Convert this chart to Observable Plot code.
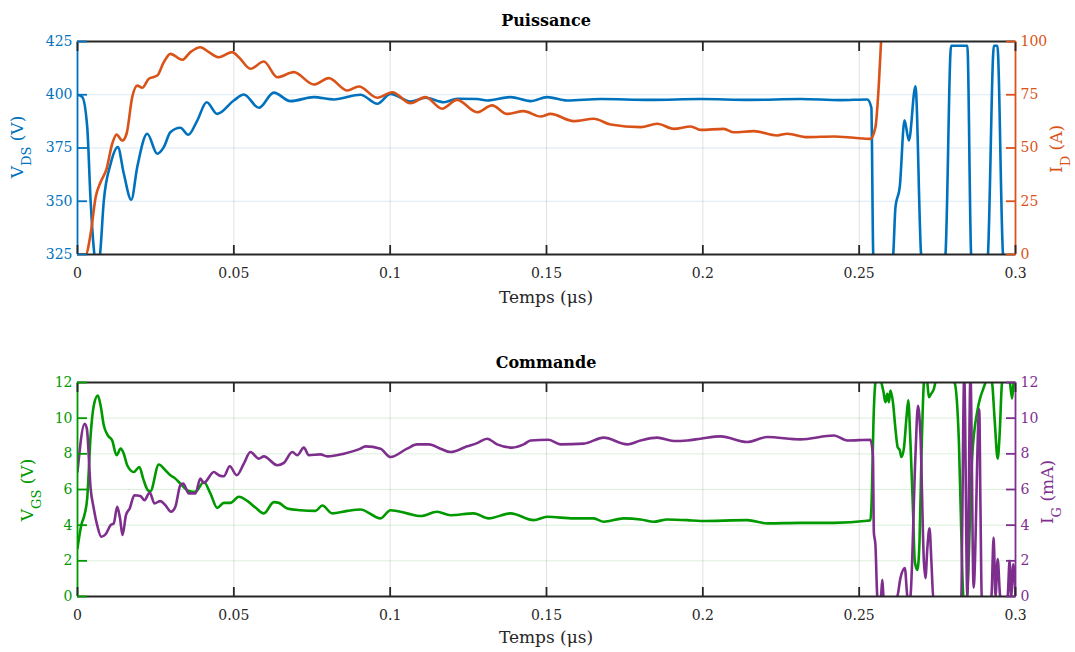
<!DOCTYPE html>
<html><head><meta charset="utf-8">
<script src="https://cdn.jsdelivr.net/npm/d3@7"></script>
<script src="https://cdn.jsdelivr.net/npm/@observablehq/plot@0.6"></script>
<style>
body{margin:0;background:#fff;}
#chart svg{display:block;}
</style></head><body><div id="chart"></div>
<script>
// ---------- data ----------
const timeDomain = [0, 0.3];
const timeTicks = [0, 0.05, 0.1, 0.15, 0.2, 0.25, 0.3];
const timeTickLabels = ["0", "0.05", "0.1", "0.15", "0.2", "0.25", "0.3"];

const vdsDomain = [325, 425];
const vdsTicks = [325, 350, 375, 400, 425];
const idDomain = [0, 100];
const idTicks = [0, 25, 50, 75, 100];

const vgsDomain = [0, 12];
const vgsTicks = [0, 2, 4, 6, 8, 10, 12];
const igDomain = [0, 12];
const igTicks = [0, 2, 4, 6, 8, 10, 12];

// [time (µs), V_DS (V)]
const vdsSeries = [[0,400],[0.0015,399],[0.0031,385],[0.0042,350],[0.0052,328],[0.0061,318],[0.0072,325],[0.0084,350],[0.0106,367.6],[0.0129,375.4],[0.0148,363],[0.0172,350.7],[0.0191,366],[0.0223,381.7],[0.0255,372.3],[0.0276,375.4],[0.0297,382.4],[0.0329,384.5],[0.0354,381.2],[0.0383,387.9],[0.0413,396.5],[0.0447,391],[0.05,397.3],[0.0532,400.1],[0.058,393.9],[0.0628,401],[0.0681,397],[0.0756,398.9],[0.082,397.8],[0.0905,400],[0.0959,395.8],[0.1001,400.4],[0.1065,396.8],[0.1113,398.6],[0.1172,396.5],[0.1214,398.1],[0.1278,398],[0.131,397.3],[0.1385,398.9],[0.1449,397],[0.1502,398.9],[0.1566,397.3],[0.1673,398],[0.1833,397.6],[0.1993,398],[0.2152,397.6],[0.2312,398],[0.244,397.5],[0.2526,397.8],[0.2539,394],[0.2545,325],[0.2575,290],[0.2609,325],[0.2616,347],[0.263,357],[0.2645,388],[0.2659,378.5],[0.268,404],[0.2698,325],[0.2735,290],[0.2776,325],[0.2794,423],[0.2846,423],[0.2858,325],[0.2885,290],[0.2912,325],[0.2931,423],[0.2942,423],[0.296,325],[0.3,290]];

// [time (µs), I_D (A)]
const idSeries = [[0,0],[0.0026,0],[0.0042,9.7],[0.0058,26.9],[0.0074,34],[0.0093,40.2],[0.0111,52],[0.0125,56.3],[0.0143,53.5],[0.0157,56.7],[0.0175,73.9],[0.0191,79.3],[0.0207,78.3],[0.0228,82.5],[0.0255,84],[0.0276,90.3],[0.0297,94.2],[0.0335,91.4],[0.0361,95],[0.0393,97.3],[0.042,95],[0.0452,92.6],[0.0495,95],[0.0516,92.6],[0.0553,87.2],[0.0596,90.6],[0.0639,83.2],[0.0692,85.6],[0.0756,79.8],[0.0804,82.8],[0.0863,77],[0.09,78.9],[0.0959,73.6],[0.1007,76.2],[0.1065,71],[0.1113,73.9],[0.1166,68.4],[0.1214,72.6],[0.1278,66.8],[0.1326,70],[0.1374,66],[0.1427,67.3],[0.1481,64.8],[0.1513,66],[0.1587,62.6],[0.1651,63.7],[0.1705,61],[0.1801,59.8],[0.1854,61.4],[0.1907,59],[0.1961,60.1],[0.1993,58.5],[0.2067,59],[0.2099,57.4],[0.2163,57.9],[0.2238,55.9],[0.227,56.7],[0.2334,55.1],[0.2419,55.4],[0.2483,54.8],[0.2536,54.3],[0.2552,59.8],[0.2563,80.1],[0.257,100],[0.258,130]];

// [time (µs), V_GS (V)]
const vgsSeries = [[0,2.7],[0.0012,4.0],[0.0022,4.56],[0.0031,5.5],[0.0042,9.03],[0.0052,10.7],[0.0065,11.27],[0.0074,10.7],[0.0084,9.6],[0.0097,9.03],[0.0111,8.75],[0.0125,7.92],[0.0138,8.29],[0.0148,8.01],[0.0159,7.36],[0.018,6.98],[0.0198,7.26],[0.021,6.61],[0.0225,5.96],[0.0233,5.9],[0.026,7.4],[0.0281,7.08],[0.0297,6.8],[0.0313,6.61],[0.0329,6.33],[0.0356,5.92],[0.0377,5.87],[0.0404,6.42],[0.0425,5.78],[0.0447,4.97],[0.0468,5.25],[0.0489,5.25],[0.0516,5.59],[0.0543,5.36],[0.0569,4.99],[0.0596,4.66],[0.0628,5.29],[0.0644,5.25],[0.0671,4.94],[0.0713,4.84],[0.0761,4.8],[0.0783,5.1],[0.0815,4.66],[0.0863,4.8],[0.0905,4.88],[0.0969,4.38],[0.1001,4.84],[0.1054,4.66],[0.1097,4.51],[0.115,4.75],[0.1193,4.56],[0.1267,4.66],[0.1315,4.38],[0.1385,4.66],[0.1459,4.28],[0.1502,4.47],[0.1587,4.38],[0.1651,4.38],[0.1683,4.19],[0.1747,4.38],[0.1801,4.32],[0.1843,4.19],[0.1886,4.32],[0.195,4.28],[0.1993,4.23],[0.2142,4.28],[0.2206,4.1],[0.2312,4.13],[0.2419,4.13],[0.2526,4.25],[0.2536,4.28],[0.2539,4.94],[0.2547,10.5],[0.2552,12],[0.2561,12.5],[0.2571,12],[0.2578,11.45],[0.2584,10.9],[0.259,11.36],[0.2595,10.9],[0.26,11.55],[0.2608,10.9],[0.2616,9.4],[0.2623,8.38],[0.263,8.2],[0.2635,7.82],[0.2643,8.29],[0.2651,9.97],[0.2657,11.0],[0.2664,8.66],[0.2672,4.94],[0.2678,1.96],[0.2686,1.49],[0.2693,3.07],[0.2699,7.73],[0.2707,12],[0.2712,12.5],[0.2718,12],[0.2723,11.17],[0.273,11.36],[0.2739,11.64],[0.2744,12],[0.2773,12.5],[0.2805,12],[0.2819,8.66],[0.2826,4.0],[0.2833,0],[0.2839,-0.5],[0.2845,0],[0.2861,7.73],[0.2879,10.5],[0.2888,11.2],[0.2894,11.5],[0.2904,12],[0.2914,12.5],[0.2925,12],[0.2933,10],[0.2943,7.73],[0.2949,9],[0.2957,12],[0.2968,12.5],[0.2982,12],[0.2989,11.1],[0.2994,12],[0.3,12.5]];

// [time (µs), I_G (mA)]
const igSeries = [[0,7.0],[0.0023,9.69],[0.003,9.4],[0.0042,6.05],[0.0052,4.94],[0.0063,4.0],[0.0076,3.35],[0.009,3.49],[0.0106,4.0],[0.0116,4.1],[0.0127,5.03],[0.0136,4.38],[0.0144,3.45],[0.0155,4.56],[0.0167,4.94],[0.0182,5.68],[0.0201,5.64],[0.0214,5.4],[0.0231,5.83],[0.0246,5.22],[0.0265,5.35],[0.0281,5.12],[0.0299,4.75],[0.0313,5.03],[0.0329,6.24],[0.0338,6.33],[0.0356,5.78],[0.0377,5.78],[0.0393,6.61],[0.0404,6.37],[0.0436,6.98],[0.0452,6.8],[0.0468,6.74],[0.0487,7.3],[0.0509,6.8],[0.0532,7.45],[0.0553,8.1],[0.058,7.73],[0.0596,7.86],[0.0639,7.36],[0.066,7.49],[0.0687,8.1],[0.0703,7.92],[0.0724,8.35],[0.074,7.92],[0.0777,7.97],[0.0799,7.86],[0.0852,8.01],[0.0905,8.29],[0.0921,8.42],[0.0969,8.29],[0.1001,7.82],[0.1054,8.29],[0.1086,8.53],[0.1124,8.53],[0.1161,8.29],[0.1193,8.1],[0.1246,8.42],[0.1278,8.6],[0.131,8.85],[0.1342,8.53],[0.139,8.35],[0.1427,8.53],[0.1449,8.75],[0.1507,8.79],[0.1545,8.53],[0.1619,8.57],[0.1683,8.91],[0.1758,8.53],[0.1801,8.75],[0.1854,8.91],[0.1907,8.72],[0.195,8.75],[0.1993,8.85],[0.2057,8.98],[0.2142,8.66],[0.2206,8.94],[0.2312,8.81],[0.2419,9.03],[0.2462,8.75],[0.2536,8.79],[0.2544,7.9],[0.2547,3.6],[0.2552,2.9],[0.2558,0],[0.2565,-0.5],[0.257,0],[0.2574,0.93],[0.2578,0],[0.26,-0.5],[0.2622,0],[0.2632,1.03],[0.2646,1.59],[0.2654,0],[0.2659,-0.3],[0.2664,0],[0.268,7.9],[0.2688,10.7],[0.2696,9.03],[0.2707,1.96],[0.2712,1.03],[0.2718,2.7],[0.2725,3.82],[0.2731,1.96],[0.2737,0],[0.2779,-0.5],[0.2826,0],[0.2836,12.4],[0.2846,0],[0.2856,12.4],[0.2866,0.5],[0.2884,10.5],[0.2888,4.95],[0.2892,0],[0.291,-0.5],[0.2923,0],[0.293,3.3],[0.2936,0],[0.2943,2.1],[0.2951,0],[0.2964,-0.5],[0.2975,0],[0.2981,2],[0.2986,0],[0.2993,1.8],[0.3,0]];

// ---------- styles ----------
const FONT = "DejaVu Serif";
const AXIS = "#262626";
const C_VDS = "#0072BD", C_ID = "#D95319", C_VGS = "#009900", C_IG = "#7E2F8E";

const toRows = s => s.map(([t, v]) => ({t, v}));
const fmtTime = d => timeTickLabels[timeTicks.indexOf(d)];

function addLabel(svg, {x, y, rotate = 0, size = 17, weight = "normal", color = AXIS, parts}) {
  const txt = d3.select(svg).append("text")
    .attr("transform", `translate(${x},${y})` + (rotate ? ` rotate(${rotate})` : ""))
    .attr("text-anchor", "middle")
    .attr("font-family", FONT)
    .attr("font-size", size)
    .attr("font-weight", weight)
    .attr("fill", color);
  let shift = 0;
  for (const p of parts) {
    if (Array.isArray(p)) {
      txt.append("tspan").attr("font-size", 13).attr("dy", 8 - shift).text(p[0]);
      shift = 8;
    } else {
      txt.append("tspan").attr("dy", -shift).text(p);
      shift = 0;
    }
  }
}

function panel({left, right, leftDomain, rightDomain, leftTicks, rightTicks, leftColor, rightColor, marginTop, marginBottom}) {
  const toLeft = v => leftDomain[0] + (v - rightDomain[0]) * (leftDomain[1] - leftDomain[0]) / (rightDomain[1] - rightDomain[0]);
  const rightTicksMapped = rightTicks.map(toLeft);
  const lineOpts = {x: "t", curve: "monotone-x", strokeWidth: 2.6, clip: true, strokeLinejoin: "round"};
  return Plot.plot({
    width: 1075, height: 326,
    marginLeft: 77, marginRight: 60, marginTop, marginBottom,
    x: {domain: timeDomain},
    y: {domain: leftDomain},
    style: {fontFamily: FONT, fontSize: "14px", background: "white", overflow: "visible"},
    marks: [
      Plot.gridX({ticks: timeTicks, stroke: "#000", strokeOpacity: 0.12, strokeWidth: 1}),
      Plot.gridY({ticks: leftTicks, stroke: leftColor, strokeOpacity: 0.15, strokeWidth: 1}),
      Plot.line(toRows(left), {...lineOpts, y: "v", stroke: leftColor}),
      Plot.line(toRows(right), {...lineOpts, y: d => toLeft(d.v), stroke: rightColor}),
      Plot.ruleY([leftDomain[0], leftDomain[1]], {stroke: AXIS, strokeWidth: 1.8}),
      Plot.ruleX([timeDomain[0]], {stroke: leftColor, strokeWidth: 1.8}),
      Plot.ruleX([timeDomain[1]], {stroke: rightColor, strokeWidth: 1.8}),
      Plot.axisX({anchor: "bottom", ticks: timeTicks, tickSize: -9, tickPadding: 23, tickFormat: fmtTime,
                  stroke: AXIS, fill: AXIS, strokeWidth: 1.8, label: null}),
      Plot.axisX({anchor: "top", ticks: timeTicks, tickSize: -9, tickFormat: () => "",
                  stroke: AXIS, fill: AXIS, strokeWidth: 1.8, label: null}),
      Plot.axisY({anchor: "left", ticks: leftTicks, tickSize: -10, tickPadding: 15,
                  stroke: leftColor, fill: leftColor, strokeWidth: 1.8, label: null}),
      Plot.axisY({anchor: "right", ticks: rightTicksMapped, tickSize: -10, tickPadding: 15,
                  tickFormat: d => String(rightTicks[rightTicksMapped.indexOf(d)]),
                  stroke: rightColor, fill: rightColor, strokeWidth: 1.8, label: null})
    ]
  });
}

const topPanel = panel({left: vdsSeries, right: idSeries, leftDomain: vdsDomain, rightDomain: idDomain,
  leftTicks: vdsTicks, rightTicks: idTicks, leftColor: C_VDS, rightColor: C_ID, marginTop: 41, marginBottom: 72});
addLabel(topPanel, {x: 546, y: 26, size: 16, weight: "bold", color: "#000", parts: ["Puissance"]});
addLabel(topPanel, {x: 546, y: 303, parts: ["Temps (μs)"]});
addLabel(topPanel, {x: 23, y: 147, rotate: -90, color: C_VDS, parts: ["V", ["DS"], " (V)"]});
addLabel(topPanel, {x: 1062, y: 149, rotate: -90, color: C_ID, parts: ["I", ["D"], " (A)"]});

const bottomPanel = panel({left: vgsSeries, right: igSeries, leftDomain: vgsDomain, rightDomain: igDomain,
  leftTicks: vgsTicks, rightTicks: igTicks, leftColor: C_VGS, rightColor: C_IG, marginTop: 56, marginBottom: 56});
addLabel(bottomPanel, {x: 546, y: 42, size: 16, weight: "bold", color: "#000", parts: ["Commande"]});
addLabel(bottomPanel, {x: 546, y: 317, parts: ["Temps (μs)"]});
addLabel(bottomPanel, {x: 33, y: 164, rotate: -90, color: C_VGS, parts: ["V", ["GS"], " (V)"]});
addLabel(bottomPanel, {x: 1053, y: 166, rotate: -90, color: C_IG, parts: ["I", ["G"], " (mA)"]});

document.getElementById("chart").append(topPanel, bottomPanel);
</script>
</body></html>
